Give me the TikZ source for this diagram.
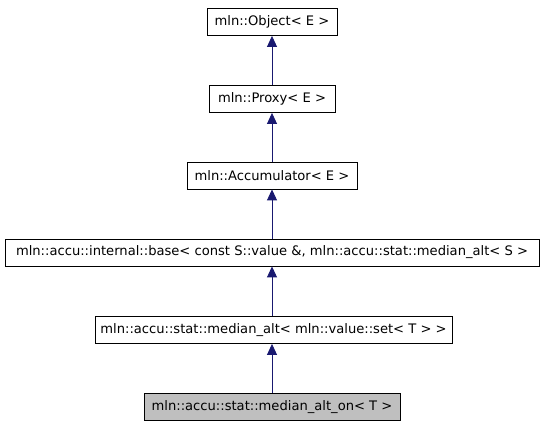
\documentclass[tikz,border=0pt]{standalone}
\usepackage{fontspec}
\setmainfont{DejaVu Sans}
\usetikzlibrary{arrows.meta}
\definecolor{edgeblue}{HTML}{191970}
\definecolor{curgray}{HTML}{BFBFBF}
\tikzset{
  cls/.style={draw=black, line width=0.85pt, inner sep=0pt, font=\fontsize{13.1}{15}\selectfont, anchor=center},
  inh/.style={draw=edgeblue, line width=0.85pt, -{Triangle[length=11pt,width=10pt]}}
}
\begin{document}
\begin{tikzpicture}[x=1pt,y=-1pt]
\useasboundingbox (0,0) rectangle (544,427);
\node[cls, minimum width=130, minimum height=27] (obj) at (272,22) {mln::Object< E >};
\node[cls, minimum width=126, minimum height=27] (proxy) at (272,99) {mln::Proxy< E >};
\node[cls, minimum width=170, minimum height=27] (acc) at (272,175.5) {mln::Accumulator< E >};
\node[cls, minimum width=534, minimum height=27] (base) at (272,252.5) {mln::accu::internal::base< const S::value \&, mln::accu::stat::median\_alt< S >};
\node[cls, minimum width=357, minimum height=27] (med) at (273.5,330) {mln::accu::stat::median\_alt< mln::value::set< T > >};
\node[cls, fill=curgray, minimum width=256, minimum height=27] (on) at (272,407) {mln::accu::stat::median\_alt\_on< T >};
\draw[inh] (proxy.north -| 272,0) -- (obj.south -| 272,0);
\draw[inh] (acc.north -| 272,0) -- (proxy.south -| 272,0);
\draw[inh] (base.north -| 272,0) -- (acc.south -| 272,0);
\draw[inh] (med.north -| 272,0) -- (base.south -| 272,0);
\draw[inh] (on.north -| 272,0) -- (med.south -| 272,0);
\end{tikzpicture}
\end{document}
